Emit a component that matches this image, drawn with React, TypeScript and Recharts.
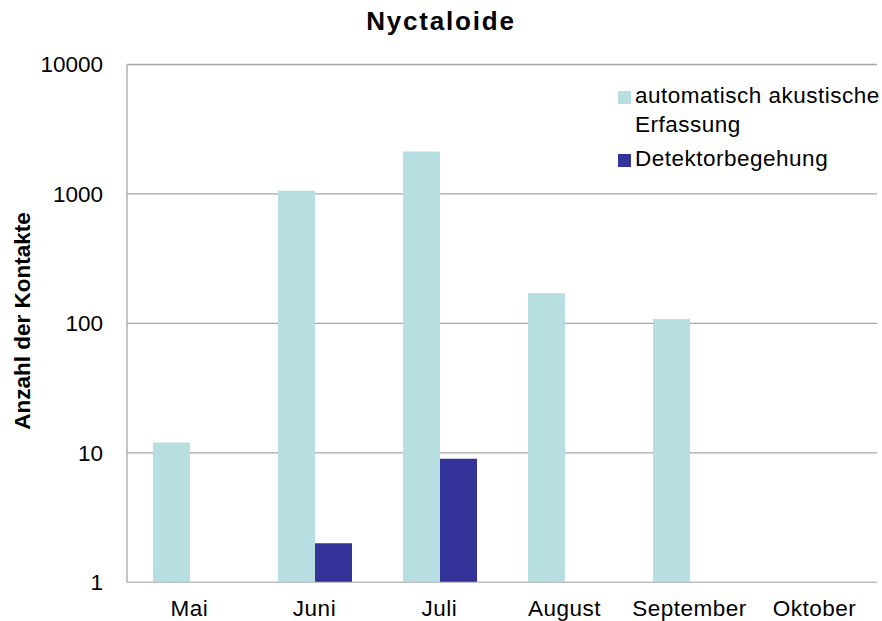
import React from 'react';
import { BarChart, Bar, XAxis, YAxis, CartesianGrid, Legend } from 'recharts';

const months = ['Mai', 'Juni', 'Juli', 'August', 'September', 'Oktober'];
const akustisch: (number | null)[] = [12, 1060, 2130, 171, 108, null];
const detektor: (number | null)[] = [null, 2, 9, null, null, null];
const yTicks = [1, 10, 100, 1000, 10000];
const seriesNames = ['automatisch akustische Erfassung', 'Detektorbegehung'];
const seriesColors = ['#B7DFE1', '#333399'];
const title = 'Nyctaloide';
const yLabel = 'Anzahl der Kontakte';

const data = months.map((m, i) => ({ month: m, a: akustisch[i], d: detektor[i] }));

const FONT = '"Liberation Sans", Arial, sans-serif';

const LegendContent = (props: any) => {
  const payload = [...(props.payload || [])].sort(
    (x: any, y: any) => seriesNames.indexOf(x.value) - seriesNames.indexOf(y.value)
  );
  return (
    <div style={{ fontFamily: FONT, fontSize: 22.5, letterSpacing: 0.5, color: '#000' }}>
      {payload.map((p: any, i: number) => (
        <div key={i} style={{ display: 'flex', alignItems: 'flex-start', marginBottom: 5.6, lineHeight: '28.7px' }}>
          <div style={{ width: 13, height: 13, background: p.color, marginTop: 9.5, marginRight: 4, flex: '0 0 auto' }} />
          <div style={{ width: 250 }}>{p.value}</div>
        </div>
      ))}
    </div>
  );
};

export default function App() {
  return (
    <div style={{ position: 'absolute', left: 0, top: 0, width: 882, height: 621, overflow: 'hidden', background: '#fff' }}>
      <div
        style={{
          position: 'absolute', left: 0, width: 882, top: 8, textAlign: 'center',
          fontFamily: FONT, fontWeight: 'bold', fontSize: 26, lineHeight: '26px', letterSpacing: 1.8, color: '#000',
        }}
      >
        {title}
      </div>
      <div
        style={{
          position: 'absolute', left: 23, top: 321, transform: 'translate(-50%, -50%) rotate(-90deg)',
          whiteSpace: 'nowrap', fontFamily: FONT, fontWeight: 'bold', fontSize: 22.5, lineHeight: '22.5px', color: '#000',
        }}
      >
        {yLabel}
      </div>
      <BarChart
        width={882}
        height={621}
        data={data}
        margin={{ top: 64.5, right: 5, bottom: 0, left: 0 }}
        barCategoryGap={26}
        barGap={0}
        style={{ position: 'absolute', left: 0, top: 0 }}
      >
        <CartesianGrid horizontal vertical={false} stroke="#A6A6A6" strokeWidth={1.3} />
        <XAxis
          dataKey="month"
          height={38.7}
          tickLine={false}
          tickSize={0}
          tickMargin={18}
          axisLine={{ stroke: '#BFBFBF', strokeWidth: 1.3 }}
          tick={{ fill: '#000', fontSize: 22.5, fontFamily: FONT, letterSpacing: 0.5 }}
          interval={0}
        />
        <YAxis
          scale="log"
          domain={[1, 10000]}
          ticks={yTicks}
          allowDataOverflow
          width={127}
          tickLine={false}
          tickSize={0}
          tickMargin={24}
          axisLine={{ stroke: '#A6A6A6', strokeWidth: 1.3 }}
          tick={{ fill: '#000', fontSize: 22.5, fontFamily: FONT }}
          interval={0}
        />
        <Legend
          layout="horizontal"
          verticalAlign="middle"
          align="center"
          content={<LegendContent />}
          wrapperStyle={{ left: 618, top: 81.8, width: 264, right: 'auto', bottom: 'auto' }}
        />
        <Bar dataKey="a" name={seriesNames[0]} fill={seriesColors[0]} isAnimationActive={false} />
        <Bar dataKey="d" name={seriesNames[1]} fill={seriesColors[1]} isAnimationActive={false} />
      </BarChart>
    </div>
  );
}
